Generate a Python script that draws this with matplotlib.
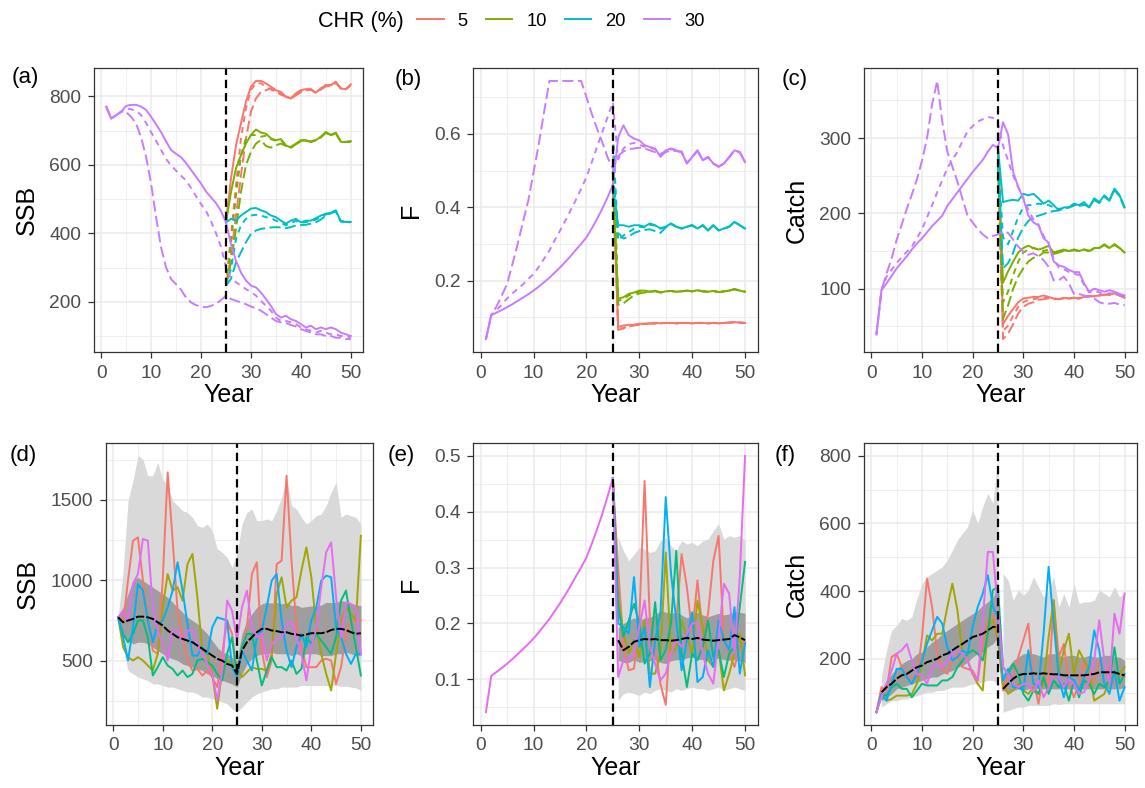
import numpy as np
import matplotlib
matplotlib.use('Agg')
import matplotlib.pyplot as plt
from matplotlib.lines import Line2D
from matplotlib.ticker import MultipleLocator, FormatStrFormatter

plt.rcParams['font.family'] = ['Liberation Sans', 'DejaVu Sans']
plt.rcParams['lines.scale_dashes'] = False

years = np.arange(1, 51)
proj = np.arange(25, 51)
proj2 = np.arange(26, 51)
pre2 = np.arange(2, 26)

chr_labels = ['5', '10', '20', '30']
chr_colors = ['#F8766D', '#7CAE00', '#00BFC4', '#C77CFF']
iter_colors = ['#F8766D', '#A3A500', '#00BF7D', '#00B0F6', '#E76BF3']

# ---- (a) SSB, CHR 30 over all years (solid, short dash, long dash) ----
ssb30_solid = [770, 735, 745, 755, 772, 775, 775, 770, 760, 740, 718, 695, 668, 643, 632, 622, 605, 585, 565, 545,
               522, 505, 488, 465, 432, 368, 320, 285, 262, 247, 242, 227, 208, 188, 164, 154, 159, 149, 144, 135,
               125, 130, 120, 125, 120, 125, 120, 110, 105, 100]
ssb30_short = [770, 735, 745, 755, 765, 762, 758, 745, 722, 695, 670, 643, 617, 598, 583, 568, 554, 532, 508, 485,
               465, 435, 400, 360, 300, 267, 257, 247, 237, 228, 218, 203, 188, 174, 154, 144, 144, 140, 135, 125,
               120, 115, 110, 115, 110, 105, 105, 100, 100, 95]
ssb30_long = [770, 735, 745, 755, 754, 740, 720, 680, 622, 544, 446, 358, 300, 266, 251, 235, 212, 198, 190, 186,
              184, 188, 194, 205, 218, 208, 203, 198, 193, 186, 181, 174, 164, 154, 144, 140, 138, 132, 128, 120,
              115, 110, 105, 105, 100, 100, 95, 95, 91, 91]
# CHR 5/10/20, years 25-50
ssb5_solid = [432, 560, 657, 721, 785, 828, 845, 845, 838, 828, 818, 813, 799, 794, 809, 818, 821, 821, 811, 823, 833, 833, 843, 823, 821, 835]
ssb5_short = [247, 394, 540, 677, 765, 819, 838, 838, 828, 820, 813, 808, 799, 794, 805, 815, 818, 820, 812, 822, 830, 832, 840, 824, 820, 833]
ssb5_long = [247, 335, 452, 569, 677, 755, 794, 813, 818, 823, 813, 805, 799, 792, 803, 812, 817, 819, 810, 820, 829, 831, 839, 823, 820, 832]
ssb10_solid = [432, 520, 590, 628, 662, 687, 703, 694, 691, 677, 672, 675, 657, 650, 662, 672, 672, 667, 672, 682, 696, 687, 694, 667, 667, 669]
ssb10_short = [247, 374, 511, 628, 677, 687, 687, 682, 685, 675, 670, 672, 657, 652, 662, 670, 671, 668, 672, 681, 694, 687, 693, 668, 667, 668]
ssb10_long = [247, 315, 413, 521, 599, 638, 662, 672, 655, 650, 657, 662, 655, 650, 660, 668, 670, 667, 671, 680, 693, 686, 692, 667, 666, 667]
ssb20_solid = [432, 442, 437, 452, 462, 472, 474, 467, 462, 452, 447, 437, 428, 437, 442, 432, 437, 437, 444, 452, 457, 460, 467, 435, 433, 433]
ssb20_short = [247, 296, 384, 423, 442, 452, 454, 452, 447, 444, 437, 431, 423, 430, 436, 430, 433, 435, 440, 448, 455, 458, 465, 435, 433, 432]
ssb20_long = [247, 267, 315, 345, 374, 398, 408, 413, 415, 417, 418, 417, 415, 418, 423, 424, 425, 428, 432, 440, 452, 458, 464, 435, 433, 432]

# ---- (b) F ----
f30_solid = [0.041, 0.106, 0.113, 0.12, 0.128, 0.136, 0.145, 0.154, 0.163, 0.173, 0.184, 0.196, 0.208, 0.222, 0.236,
             0.251, 0.267, 0.284, 0.3, 0.318, 0.342, 0.368, 0.396, 0.427, 0.46, 0.59, 0.623, 0.596, 0.587, 0.582,
             0.569, 0.564, 0.56, 0.537, 0.555, 0.56, 0.555, 0.55, 0.519, 0.537, 0.555, 0.528, 0.537, 0.519, 0.51,
             0.519, 0.537, 0.555, 0.55, 0.523]
f30_short = [0.041, 0.106, 0.12, 0.135, 0.152, 0.165, 0.178, 0.19, 0.205, 0.218, 0.238, 0.26, 0.282, 0.31, 0.336,
             0.363, 0.391, 0.42, 0.45, 0.482, 0.522, 0.564, 0.605, 0.645, 0.686, 0.53, 0.56, 0.572, 0.575, 0.57,
             0.565, 0.562, 0.558, 0.545, 0.553, 0.558, 0.556, 0.552, 0.52, 0.537, 0.554, 0.528, 0.537, 0.519, 0.511,
             0.519, 0.536, 0.554, 0.55, 0.523]
f30_long = [0.041, 0.106, 0.13, 0.16, 0.191, 0.245, 0.3, 0.36, 0.418, 0.495, 0.573, 0.66, 0.744, 0.744, 0.744,
            0.744, 0.744, 0.744, 0.744, 0.7, 0.655, 0.614, 0.577, 0.536, 0.505, 0.54, 0.552, 0.558, 0.56, 0.562,
            0.56, 0.555, 0.55, 0.54, 0.55, 0.555, 0.553, 0.55, 0.52, 0.536, 0.554, 0.528, 0.536, 0.519, 0.511,
            0.519, 0.536, 0.554, 0.55, 0.523]
f5_solid = [0.46, 0.074, 0.078, 0.08, 0.08, 0.083, 0.083, 0.084, 0.085, 0.084, 0.085, 0.085, 0.084, 0.085, 0.085, 0.084, 0.085, 0.085, 0.084, 0.085, 0.084, 0.085, 0.086, 0.087, 0.086, 0.085]
f5_short = [0.6, 0.068, 0.072, 0.076, 0.079, 0.081, 0.082, 0.083, 0.084, 0.084, 0.085, 0.085, 0.084, 0.085, 0.085, 0.084, 0.085, 0.085, 0.084, 0.085, 0.084, 0.085, 0.086, 0.087, 0.086, 0.085]
f5_long = [0.5, 0.066, 0.07, 0.075, 0.078, 0.08, 0.082, 0.083, 0.083, 0.084, 0.085, 0.085, 0.084, 0.085, 0.085, 0.084, 0.085, 0.085, 0.084, 0.085, 0.084, 0.085, 0.086, 0.087, 0.086, 0.085]
f10_solid = [0.46, 0.151, 0.155, 0.164, 0.168, 0.173, 0.173, 0.17, 0.173, 0.168, 0.171, 0.172, 0.17, 0.171, 0.173, 0.171, 0.174, 0.171, 0.17, 0.172, 0.169, 0.171, 0.173, 0.177, 0.173, 0.17]
f10_short = [0.6, 0.145, 0.15, 0.16, 0.165, 0.17, 0.172, 0.17, 0.172, 0.168, 0.171, 0.172, 0.17, 0.171, 0.173, 0.171, 0.174, 0.171, 0.17, 0.172, 0.169, 0.171, 0.173, 0.177, 0.173, 0.17]
f10_long = [0.5, 0.135, 0.138, 0.15, 0.16, 0.165, 0.168, 0.169, 0.171, 0.168, 0.171, 0.172, 0.17, 0.171, 0.173, 0.171, 0.174, 0.171, 0.17, 0.172, 0.169, 0.171, 0.173, 0.177, 0.173, 0.17]
f20_solid = [0.46, 0.351, 0.351, 0.347, 0.351, 0.351, 0.347, 0.356, 0.351, 0.342, 0.347, 0.356, 0.347, 0.342, 0.347, 0.351, 0.342, 0.351, 0.337, 0.351, 0.337, 0.342, 0.347, 0.36, 0.351, 0.342]
f20_short = [0.6, 0.31, 0.323, 0.332, 0.342, 0.347, 0.345, 0.352, 0.35, 0.342, 0.347, 0.355, 0.347, 0.342, 0.347, 0.351, 0.342, 0.351, 0.337, 0.351, 0.337, 0.342, 0.347, 0.36, 0.351, 0.342]
f20_long = [0.5, 0.33, 0.315, 0.32, 0.33, 0.335, 0.338, 0.34, 0.335, 0.33, 0.345, 0.354, 0.347, 0.342, 0.347, 0.351, 0.342, 0.351, 0.337, 0.351, 0.337, 0.342, 0.347, 0.36, 0.351, 0.342]

# ---- (c) Catch ----
c30_solid = [39, 98, 107, 117, 127, 135, 143, 152, 160, 167, 175, 183, 190, 197, 210, 219, 228, 237, 246, 255,
             263, 271, 282, 291, 287, 321, 305, 255, 235, 220, 197, 188, 184, 167, 161, 136, 131, 129, 125, 122,
             122, 107, 96, 100, 98, 96, 98, 96, 93, 91]
c30_short = [39, 98, 116, 125, 134, 142, 149, 156, 167, 179, 195, 211, 228, 244, 260, 271, 282, 296, 309, 316,
             322, 325, 328, 327, 320, 290, 270, 250, 235, 220, 205, 192, 185, 170, 160, 140, 128, 126, 122, 120,
             118, 105, 95, 97, 95, 92, 94, 93, 91, 89]
c30_long = [39, 98, 120, 140, 165, 185, 206, 225, 245, 270, 300, 345, 376, 322, 282, 262, 242, 219, 197, 188,
            179, 172, 167, 170, 172, 176, 174, 165, 156, 149, 145, 147, 143, 138, 129, 111, 111, 116, 107, 93,
            93, 91, 89, 87, 82, 80, 80, 81, 79, 78]
c5_solid = [287, 53, 64, 73, 82, 87, 88, 89, 89, 91, 89, 87, 86, 88, 87, 88, 87, 89, 90, 90, 91, 92, 92, 94, 91, 88]
c5_short = [275, 44, 51, 64, 76, 82, 85, 86, 87, 88, 88, 87, 86, 88, 87, 88, 87, 89, 90, 90, 91, 92, 92, 94, 91, 88]
c5_long = [270, 33, 40, 53, 67, 76, 80, 82, 85, 86, 87, 86, 86, 87, 87, 88, 87, 89, 90, 90, 91, 92, 92, 93, 91, 88]
c10_solid = [287, 108, 123, 136, 148, 154, 157, 154, 152, 154, 157, 148, 150, 152, 150, 152, 150, 152, 150, 154, 154, 159, 154, 159, 154, 148]
c10_short = [275, 82, 96, 118, 136, 148, 152, 154, 152, 150, 152, 148, 150, 151, 150, 152, 150, 152, 150, 154, 154, 158, 154, 159, 154, 148]
c10_long = [270, 60, 78, 100, 116, 127, 136, 141, 143, 148, 148, 146, 148, 150, 150, 151, 150, 152, 150, 153, 154, 158, 154, 158, 154, 148]
c20_solid = [287, 215, 217, 218, 217, 226, 224, 226, 220, 213, 217, 211, 204, 208, 208, 213, 211, 215, 208, 220, 215, 224, 217, 233, 224, 208]
c20_short = [275, 168, 159, 177, 195, 208, 211, 211, 213, 212, 211, 208, 206, 207, 208, 210, 210, 211, 208, 218, 214, 223, 217, 232, 224, 208]
c20_long = [270, 127, 134, 148, 168, 181, 190, 195, 197, 199, 202, 203, 204, 206, 208, 211, 211, 212, 208, 218, 214, 222, 217, 231, 223, 207]

# ---- (d) SSB iterations ----
ssb_it1 = [769, 730, 1000, 1245, 1266, 1000, 760, 562, 542, 1000, 1670, 1250, 811, 645, 500, 438, 448, 407, 438, 397,
           335, 542, 749, 666, 417, 562, 707, 1038, 1111, 562, 397, 500, 1100, 1121, 1649, 1121, 707, 583, 459, 459,
           459, 500, 511, 500, 355, 459, 666, 749, 749, 749]
ssb_it2 = [769, 583, 521, 500, 521, 500, 469, 438, 542, 831, 1038, 935, 956, 873, 1100, 1163, 893, 562, 542, 417,
           200, 438, 500, 479, 459, 397, 428, 459, 448, 448, 438, 542, 914, 1018, 831, 873, 893, 1059, 1204, 1018,
           707, 542, 417, 314, 542, 749, 831, 790, 749, 1276]
ssb_it3 = [769, 666, 614, 666, 749, 749, 645, 407, 459, 521, 469, 448, 407, 438, 397, 417, 500, 511, 490, 469,
           417, 376, 542, 645, 397, 583, 666, 666, 500, 345, 438, 521, 459, 459, 438, 500, 417, 448, 645, 604,
           666, 624, 583, 542, 645, 873, 935, 749, 583, 407]
ssb_it4 = [769, 645, 500, 707, 976, 935, 749, 614, 728, 749, 831, 935, 1111, 935, 728, 531, 531, 583, 542, 707,
           769, 759, 749, 459, 397, 562, 500, 438, 645, 686, 831, 997, 1038, 749, 562, 459, 583, 666, 583, 749,
           831, 997, 1028, 1018, 707, 645, 542, 479, 542, 542]
ssb_it5 = [769, 811, 749, 976, 1038, 1256, 1245, 831, 687, 604, 500, 687, 687, 624, 687, 687, 604, 542, 479, 417,
           252, 438, 873, 811, 624, 831, 935, 707, 645, 666, 500, 604, 635, 645, 728, 738, 645, 542, 376, 583,
           707, 956, 1173, 1235, 893, 645, 862, 852, 831, 542]
ssb_med = [769, 738, 749, 759, 773, 773, 769, 759, 738, 718, 687, 666, 645, 635, 624, 614, 593, 573, 552, 531,
           511, 500, 479, 469, 417, 562, 614, 645, 676, 697, 697, 687, 683, 676, 676, 666, 662, 655, 662, 670,
           670, 670, 676, 690, 697, 697, 690, 676, 666, 670]
ssb_hi95 = [769, 1059, 1494, 1618, 1773, 1752, 1649, 1649, 1732, 1628, 1587, 1494, 1463, 1432, 1421, 1390, 1339, 1328, 1349, 1308,
            1194, 1173, 1142, 1080, 1163, 1349, 1421, 1442, 1370, 1370, 1380, 1370, 1432, 1514, 1639, 1463, 1442, 1390, 1349, 1370,
            1401, 1411, 1463, 1546, 1608, 1390, 1411, 1401, 1390, 1349]
ssb_lo95 = [769, 583, 438, 417, 397, 386, 376, 355, 355, 345, 335, 335, 324, 314, 304, 304, 293, 273, 273, 262,
            252, 242, 231, 200, 179, 210, 242, 273, 293, 304, 314, 324, 324, 335, 335, 335, 335, 345, 345, 345,
            345, 345, 345, 345, 345, 340, 340, 335, 330, 314]
ssb_hi50 = [769, 831, 914, 997, 1018, 997, 976, 956, 935, 914, 893, 862, 831, 800, 769, 749, 728, 697, 666, 624,
            583, 552, 542, 521, 500, 666, 749, 790, 831, 852, 862, 857, 862, 852, 860, 842, 845, 831, 835, 840,
            838, 845, 862, 860, 862, 873, 865, 855, 845, 842]
ssb_lo50 = [769, 666, 624, 604, 614, 614, 604, 583, 562, 542, 521, 511, 500, 479, 469, 459, 448, 438, 417, 407,
            386, 376, 366, 355, 335, 417, 479, 511, 531, 542, 542, 552, 542, 542, 542, 531, 542, 531, 542, 542,
            542, 531, 531, 531, 542, 542, 552, 542, 531, 531]

# ---- (e) F iterations, years 26-50 (history shared with f30_solid) ----
f_it1 = [0.3, 0.16, 0.116, 0.119, 0.205, 0.455, 0.205, 0.158, 0.092, 0.054, 0.205, 0.205, 0.324, 0.265, 0.182,
         0.277, 0.182, 0.217, 0.312, 0.357, 0.17, 0.146, 0.122, 0.158, 0.167]
f_it2 = [0.25, 0.182, 0.146, 0.17, 0.14, 0.205, 0.11, 0.11, 0.146, 0.327, 0.146, 0.158, 0.205, 0.176, 0.146,
         0.241, 0.193, 0.134, 0.122, 0.152, 0.08, 0.11, 0.146, 0.182, 0.107]
f_it3 = [0.229, 0.176, 0.205, 0.235, 0.2, 0.128, 0.146, 0.238, 0.134, 0.152, 0.2, 0.33, 0.146, 0.086, 0.146,
         0.134, 0.158, 0.205, 0.14, 0.152, 0.104, 0.146, 0.158, 0.229, 0.31]
f_it4 = [0.2, 0.193, 0.182, 0.283, 0.158, 0.193, 0.086, 0.17, 0.217, 0.426, 0.289, 0.205, 0.116, 0.17, 0.22,
         0.095, 0.104, 0.152, 0.122, 0.205, 0.17, 0.152, 0.229, 0.11, 0.164]
f_it5 = [0.104, 0.134, 0.134, 0.146, 0.193, 0.241, 0.158, 0.128, 0.098, 0.11, 0.146, 0.17, 0.158, 0.182, 0.2,
         0.2, 0.146, 0.11, 0.092, 0.176, 0.271, 0.253, 0.146, 0.283, 0.5]
f_med = [0.17, 0.152, 0.158, 0.167, 0.17, 0.172, 0.171, 0.172, 0.17, 0.17, 0.169, 0.17, 0.172, 0.174, 0.172,
         0.174, 0.171, 0.17, 0.169, 0.17, 0.171, 0.172, 0.179, 0.175, 0.17]
f_hi95 = [0.354, 0.33, 0.312, 0.324, 0.336, 0.333, 0.327, 0.33, 0.348, 0.354, 0.339, 0.33, 0.348, 0.342, 0.345,
          0.339, 0.348, 0.351, 0.366, 0.378, 0.351, 0.357, 0.354, 0.357, 0.348]
f_lo95 = [0.062, 0.074, 0.077, 0.074, 0.071, 0.077, 0.074, 0.08, 0.083, 0.08, 0.077, 0.083, 0.08, 0.083, 0.086,
          0.083, 0.083, 0.08, 0.083, 0.086, 0.08, 0.083, 0.086, 0.083, 0.08]
f_hi50 = [0.193, 0.2, 0.205, 0.21, 0.205, 0.21, 0.211, 0.215, 0.223, 0.22, 0.218, 0.22, 0.215, 0.21, 0.215,
          0.22, 0.215, 0.212, 0.215, 0.218, 0.215, 0.217, 0.22, 0.22, 0.218]
f_lo50 = [0.134, 0.13, 0.13, 0.135, 0.13, 0.132, 0.133, 0.135, 0.13, 0.128, 0.133, 0.135, 0.135, 0.138, 0.14,
          0.136, 0.135, 0.134, 0.135, 0.138, 0.135, 0.134, 0.135, 0.132, 0.13]

# ---- (f) Catch iterations ----
c_it1 = [42, 116, 106, 205, 215, 175, 155, 141, 146, 264, 437, 353, 215, 170, 155, 195, 215, 175, 170, 165,
         136, 244, 314, 333, 264, 106, 155, 146, 205, 254, 304, 136, 67, 155, 116, 373, 205, 244, 126, 86,
         126, 195, 116, 136, 195, 155, 175, 126, 155, 146]
c_it2 = [42, 91, 76, 81, 91, 91, 91, 96, 126, 185, 269, 254, 274, 274, 353, 422, 343, 215, 195, 155,
         126, 106, 294, 314, 254, 126, 96, 106, 126, 106, 96, 116, 96, 126, 264, 373, 155, 225, 274, 155,
         225, 195, 165, 76, 86, 96, 136, 155, 155, 175]
c_it3 = [42, 96, 91, 116, 126, 111, 111, 86, 106, 126, 121, 121, 121, 136, 136, 146, 175, 195, 215, 225,
         215, 195, 274, 403, 413, 175, 155, 185, 155, 96, 76, 106, 96, 146, 96, 136, 116, 126, 76, 136,
         86, 136, 126, 96, 126, 116, 136, 234, 126, 155]
c_it4 = [42, 96, 76, 126, 170, 170, 146, 126, 155, 195, 244, 284, 324, 304, 234, 195, 205, 225, 215, 294,
         353, 393, 447, 353, 324, 136, 170, 116, 116, 106, 225, 126, 116, 274, 472, 304, 146, 86, 146, 136,
         106, 146, 175, 284, 225, 126, 96, 165, 76, 116]
c_it5 = [42, 86, 126, 165, 215, 225, 244, 195, 155, 151, 126, 175, 185, 175, 195, 215, 225, 215, 195, 155,
         136, 314, 516, 516, 343, 175, 155, 126, 116, 126, 126, 101, 136, 86, 116, 155, 146, 116, 141, 126,
         96, 101, 136, 195, 314, 195, 126, 333, 274, 393]
c_med_pre = [101, 116, 126, 141, 151, 155, 165, 175, 180, 190, 195, 200, 210, 215, 225, 235, 244, 254, 264, 269, 274, 284, 294, 294]
c_hi95_pre = [150, 225, 284, 299, 319, 314, 324, 378, 422, 442, 452, 462, 472, 492, 521, 551, 571, 590, 640, 600, 650, 689, 660, 800]
c_lo95_pre = [57, 67, 76, 76, 81, 81, 86, 91, 96, 101, 101, 106, 106, 111, 116, 116, 116, 121, 126, 126, 131, 136, 136, 126]
c_hi50_pre = [106, 136, 155, 170, 185, 195, 200, 215, 220, 235, 249, 259, 274, 284, 294, 304, 314, 324, 333, 343, 358, 368, 383, 408]
c_lo50_pre = [76, 86, 96, 111, 116, 121, 126, 131, 136, 141, 146, 146, 155, 160, 165, 175, 180, 190, 205, 215, 220, 235, 244, 264]
c_med_post = [111, 126, 141, 151, 155, 155, 157, 155, 157, 155, 154, 154, 151, 151, 151, 151, 151, 153, 155, 160, 160, 160, 160, 155, 151]
c_hi95_post = [452, 432, 373, 403, 388, 403, 442, 413, 383, 403, 442, 353, 393, 353, 422, 363, 368, 368, 373, 403, 393, 383, 413, 383, 393]
c_lo95_post = [42, 47, 52, 57, 57, 62, 62, 62, 62, 62, 67, 65, 67, 67, 67, 67, 67, 67, 67, 67, 67, 67, 67, 67, 67]
c_hi50_post = [155, 175, 195, 205, 215, 215, 215, 210, 205, 215, 215, 210, 205, 210, 210, 205, 205, 210, 205, 205, 210, 210, 205, 205, 195]
c_lo50_post = [106, 101, 106, 111, 106, 111, 111, 111, 111, 111, 111, 111, 111, 111, 111, 111, 111, 111, 111, 111, 111, 111, 111, 111, 116]

linestyles = ['-', (0, (4.3, 3.6)), (0, (8, 3.2))]
vline_style = (0, (6, 3.5))
med_style = (0, (6, 1.5))
light = '#D9D9D9'
dark = '#9E9E9E'

W, H = 1145, 788
fig = plt.figure(figsize=(W / 100, H / 100), dpi=100)


def add_ax(left, right, top, bottom):
    return fig.add_axes([left / W, 1 - bottom / H, (right - left) / W, (bottom - top) / H])


def style(ax, ymaj, ymin, fmt, ylabel):
    for s in ax.spines.values():
        s.set_color('#333333')
        s.set_linewidth(0.9)
    ax.xaxis.set_major_locator(MultipleLocator(10))
    ax.xaxis.set_minor_locator(MultipleLocator(5))
    ax.yaxis.set_major_locator(MultipleLocator(ymaj))
    ax.yaxis.set_minor_locator(MultipleLocator(ymin))
    ax.yaxis.set_major_formatter(FormatStrFormatter(fmt))
    ax.grid(which='major', color='#EBEBEB', lw=1.1)
    ax.grid(which='minor', color='#EBEBEB', lw=0.55)
    ax.set_axisbelow(True)
    ax.tick_params(which='major', length=4.5, width=0.9, color='#333333',
                   labelsize=13.8, labelcolor='#4D4D4D', pad=4.5)
    ax.tick_params(which='minor', length=0)
    ax.margins(x=0.05, y=0.05)
    ax.set_xlabel('Year', fontsize=18, labelpad=1)
    ax.set_ylabel(ylabel, fontsize=18, labelpad=8)


def top_panel(ax, hist, runs_by_chr):
    for k, runs in enumerate(runs_by_chr):
        for run, ls in zip(runs, linestyles):
            ax.plot(proj, run, color=chr_colors[k], ls=ls, lw=1.4)
    for run, ls in zip(hist, linestyles):
        ax.plot(years, run, color=chr_colors[3], ls=ls, lw=1.4)
    ax.axvline(25, color='black', ls=vline_style, lw=1.6)


ax_a = add_ax(94, 363, 68, 352)
top_panel(ax_a, [ssb30_solid, ssb30_short, ssb30_long],
          [[ssb5_solid, ssb5_short, ssb5_long], [ssb10_solid, ssb10_short, ssb10_long],
           [ssb20_solid, ssb20_short, ssb20_long]])
style(ax_a, 200, 100, '%d', 'SSB')

ax_b = add_ax(473, 758, 68, 352)
top_panel(ax_b, [f30_solid, f30_short, f30_long],
          [[f5_solid, f5_short, f5_long], [f10_solid, f10_short, f10_long],
           [f20_solid, f20_short, f20_long]])
style(ax_b, 0.2, 0.1, '%.1f', 'F')

ax_c = add_ax(864, 1137, 68, 352)
top_panel(ax_c, [c30_solid, c30_short, c30_long],
          [[c5_solid, c5_short, c5_long], [c10_solid, c10_short, c10_long],
           [c20_solid, c20_short, c20_long]])
style(ax_c, 100, 50, '%d', 'Catch')

# (d)
ax_d = add_ax(106, 373, 443, 725)
ax_d.fill_between(years, ssb_lo95, ssb_hi95, color=light, lw=0)
ax_d.fill_between(years, ssb_lo50, ssb_hi50, color=dark, lw=0)
for run, col in zip([ssb_it1, ssb_it2, ssb_it3, ssb_it4, ssb_it5], iter_colors):
    ax_d.plot(years, run, color=col, lw=1.4)
ax_d.plot(years, ssb_med, color='black', ls=med_style, lw=1.4)
ax_d.axvline(25, color='black', ls=vline_style, lw=1.6)
style(ax_d, 500, 250, '%d', 'SSB')

# (e): history identical for every iteration, so only the last one shows before year 25
ax_e = add_ax(473, 758, 443, 725)
ax_e.fill_between(proj2, f_lo95, f_hi95, color=light, lw=0)
ax_e.fill_between(proj2, f_lo50, f_hi50, color=dark, lw=0)
f_runs = [f_it1, f_it2, f_it3, f_it4, f_it5]
for i, (run, col) in enumerate(zip(f_runs, iter_colors)):
    if i < 4:
        ax_e.plot(proj, f30_solid[24:25] + run, color=col, lw=1.4)
    else:
        ax_e.plot(years, f30_solid[:25] + run, color=col, lw=1.4)
ax_e.plot(proj2, f_med, color='black', ls=med_style, lw=1.4)
ax_e.axvline(25, color='black', ls=vline_style, lw=1.6)
style(ax_e, 0.1, 0.05, '%.1f', 'F')

# (f)
ax_f = add_ax(864, 1137, 443, 725)
ax_f.fill_between(pre2, c_lo95_pre, c_hi95_pre, color=light, lw=0)
ax_f.fill_between(proj2, c_lo95_post, c_hi95_post, color=light, lw=0)
ax_f.fill_between(pre2, c_lo50_pre, c_hi50_pre, color=dark, lw=0)
ax_f.fill_between(proj2, c_lo50_post, c_hi50_post, color=dark, lw=0)
for run, col in zip([c_it1, c_it2, c_it3, c_it4, c_it5], iter_colors):
    ax_f.plot(years, run, color=col, lw=1.4)
ax_f.plot(pre2, c_med_pre, color='black', ls=med_style, lw=1.4)
ax_f.plot(proj2, c_med_post, color='black', ls=med_style, lw=1.4)
ax_f.axvline(25, color='black', ls=vline_style, lw=1.6)
style(ax_f, 200, 100, '%d', 'Catch')

# panel tags
for tag, x, y in [('(a)', 12, 78), ('(b)', 395, 80), ('(c)', 782, 80),
                  ('(d)', 10, 455), ('(e)', 388, 455), ('(f)', 775, 455)]:
    fig.text(x / W, 1 - y / H, tag, fontsize=16, ha='left', va='center')

# legend
fig.text(318 / W, 1 - 21 / H, 'CHR (%)', fontsize=15.5, ha='left', va='center')
handles = [Line2D([], [], color=c, lw=1.4) for c in chr_colors]
fig.legend(handles, chr_labels, loc='center left', bbox_to_anchor=(417 / W, 1 - 21 / H),
           ncol=4, frameon=False, fontsize=13.2, handlelength=1.45, handletextpad=0.75,
           columnspacing=1.0, borderpad=0, borderaxespad=0)

fig.savefig('out.png', dpi=100)
